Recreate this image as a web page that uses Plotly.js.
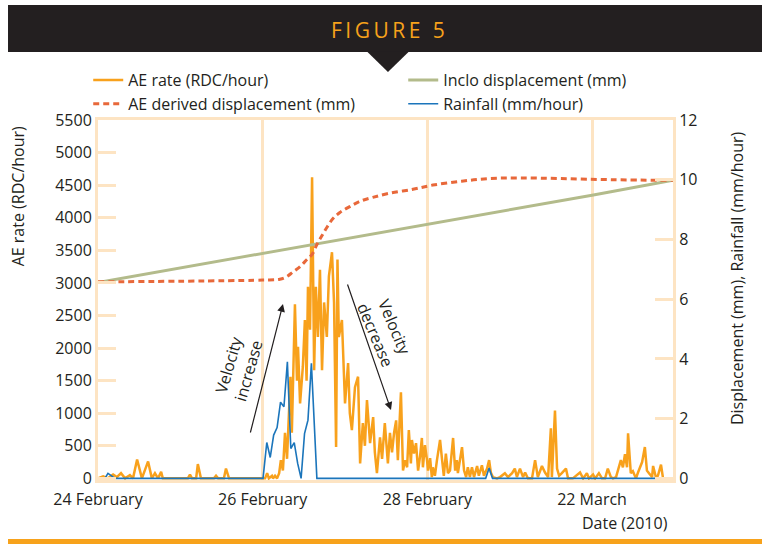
<!DOCTYPE html>
<html>
<head>
<meta charset="utf-8">
<script src="https://cdn.plot.ly/plotly-3.0.1.min.js"></script>
<style>
html,body{margin:0;padding:0;background:#ffffff;}
#chart{width:762px;height:546px;}
</style>
</head>
<body>
<div id="chart"></div>
<script>
// ---- Data (x in hours since 24 February 00:00) ----
var tickHours = [0, 48, 96, 144];
var tickLabels = ['24 February', '26 February', '28 February', '22 March'];

var aeHours = [0.0,1.5,2.9,4.4,5.5,6.7,7.9,9.3,10.2,11.4,12.8,14.6,15.7,16.6,17.5,18.4,18.9,26.2,26.8,27.4,28.6,29.1,30.0,33.8,34.4,35.0,36.7,37.3,38.2,
48.7,49.3,49.8,50.7,51.0,51.6,52.2,52.8,53.3,53.9,54.5,55.1,55.7,56.1,56.5,57.4,58.0,58.3,58.9,59.7,60.3,60.8,61.2,61.8,62.4,63.0,63.5,64.1,64.7,65.3,65.9,66.7,67.3,68.2,68.8,69.4,69.8,70.2,71.1,72.0,72.9,73.4,74.0,74.9,75.8,76.4,77.2,77.8,78.4,79.3,80.2,80.7,81.3,82.2,82.8,83.6,84.5,85.1,85.7,86.3,86.9,87.4,88.3,88.9,89.5,90.1,90.6,91.2,91.5,92.1,92.7,93.3,93.9,94.4,94.7,95.3,95.9,96.2,96.8,97.3,97.6,98.2,98.8,99.7,100.3,100.8,101.4,102.0,102.6,103.5,104.1,104.6,104.9,105.5,106.1,106.7,107.3,107.8,108.4,109.0,109.6,110.5,111.0,111.9,112.5,113.4,114.0,114.5,115.1,116.3,117.2,118.6,119.5,120.7,121.5,122.1,123.0,123.9,124.5,125.3,126.5,127.4,128.2,129.4,130.3,131.2,132.0,132.3,133.2,133.8,134.4,135.2,136.4,137.0,138.4,140.5,141.4,142.5,143.1,144.3,144.9,146.0,146.9,147.8,148.6,149.5,150.1,151.0,151.6,152.4,153.0,153.6,154.2,154.5,155.1,155.3,155.9,156.8,157.4,158.6,159.4,160.0,160.6,161.5,161.8,162.6,163.2,164.1,164.7];
var aeRate = [0,30,0,60,20,80,0,50,0,290,0,260,0,80,0,100,0,0,60,0,0,220,0,0,40,0,0,150,0,
0,80,0,40,0,40,0,80,280,120,700,300,1100,1560,700,2670,1500,2020,1150,1710,2430,1500,2940,2280,4620,1660,2940,2170,3200,1660,2700,2170,3100,3470,2700,480,3360,2170,2430,1150,1770,1000,740,1400,1560,230,850,500,1200,540,940,400,80,630,300,850,230,700,400,700,890,280,1320,120,280,170,740,230,590,380,540,120,350,620,170,510,280,120,310,20,170,40,280,590,280,40,380,80,120,620,120,280,80,280,480,120,20,170,20,170,20,190,40,200,40,150,280,90,20,0,20,80,20,80,150,20,150,20,90,0,0,280,20,190,90,20,770,20,1040,150,40,80,150,0,0,90,0,80,0,60,0,80,0,0,150,20,0,20,120,280,170,370,170,690,230,80,110,0,90,250,480,120,80,20,190,20,40,210,0];

var aeDispHours = [0,48,53.0,55.1,56.9,58.9,60.9,62.4,63.8,65.3,66.7,68.5,70.5,73.4,76.4,80.1,85.1,91.8,97.6,106,114,123,135,150,167.6];
var aeDisp = [6.58,6.64,6.67,6.76,6.92,7.09,7.33,7.5,7.83,8.13,8.4,8.7,8.9,9.1,9.28,9.41,9.55,9.68,9.82,9.95,10.04,10.06,10.04,10.0,9.98];

var incloHours = [0, 48, 96, 144, 167.6];
var incloDisp = [6.56, 7.53, 8.51, 9.48, 9.98];

var rainHours = [0,2.0,2.9,5.0,48.1,49.2,50.2,51.2,52.2,53.2,54.2,55.2,56.2,57.2,58.2,59.2,60.2,61.2,62.2,63.8,113.0,114.0,115.0,167.6];
var rainfall = [0,0,0.17,0,0,1.2,0.7,1.45,1.7,2.55,2.4,3.9,1.0,1.2,0.5,0,1.5,1.95,3.85,0,0,0.35,0,0];

// ---- Style ----
var FONT = 'Open Sans, DejaVu Sans, sans-serif';
var TXT = '#231f20';
var PEACH = '#fde4c3';
var ORANGE = '#f8a11c';
var DASHC = '#e8683a';
var GREEN = '#b3bb8b';
var BLUE = '#1b75bb';

var traces = [
  {x: aeHours, y: aeRate, type: 'scatter', mode: 'lines', name: 'AE rate (RDC/hour)',
   line: {color: ORANGE, width: 2.5}, legendrank: 1, yaxis: 'y'},
  {x: rainHours, y: rainfall, type: 'scatter', mode: 'lines', name: 'Rainfall (mm/hour)',
   line: {color: BLUE, width: 1.6}, legendrank: 4, yaxis: 'y2'},
  {x: incloHours, y: incloDisp, type: 'scatter', mode: 'lines', name: 'Inclo displacement (mm)',
   line: {color: GREEN, width: 3}, legendrank: 2, yaxis: 'y2'},
  {x: aeDispHours, y: aeDisp, type: 'scatter', mode: 'lines', name: 'AE derived displacement (mm)',
   line: {color: DASHC, width: 3, dash: '6px,4px', shape: 'spline'}, legendrank: 3, yaxis: 'y2'}
];

var layout = {
  width: 762, height: 546,
  margin: {l: 98, r: 89, t: 120, b: 66},
  paper_bgcolor: '#ffffff', plot_bgcolor: '#ffffff',
  font: {family: FONT, size: 16, color: TXT},
  showlegend: true,
  legend: {orientation: 'h', x: -0.017, y: 1.158, xanchor: 'left', yanchor: 'top',
    font: {family: FONT, size: 16, color: TXT}, entrywidth: 270, entrywidthmode: 'pixels',
    bgcolor: 'rgba(0,0,0,0)', traceorder: 'normal', itemwidth: 30},
  xaxis: {range: [0, 167.6], tickmode: 'array', tickvals: tickHours, ticktext: tickLabels,
    showgrid: true, gridcolor: PEACH, gridwidth: 3, zeroline: false,
    showline: true, linecolor: PEACH, linewidth: 3, mirror: true, ticks: '',
    ticklabelstandoff: 3,
    tickfont: {family: FONT, size: 16, color: TXT}, fixedrange: true},
  yaxis: {range: [-25, 5500], tickmode: 'linear', tick0: 0, dtick: 500,
    showgrid: false, zeroline: false, showline: true, linecolor: PEACH, linewidth: 3,
    ticks: 'inside', ticklen: 18, tickwidth: 3, tickcolor: PEACH,
    tickfont: {family: FONT, size: 16, color: TXT}},
  yaxis2: {range: [-25 * 12 / 5500, 12], overlaying: 'y', side: 'right', tickmode: 'linear', tick0: 0, dtick: 2,
    showgrid: false, zeroline: false, showline: true, linecolor: PEACH, linewidth: 3,
    ticks: 'inside', ticklen: 18, tickwidth: 3, tickcolor: PEACH,
    tickfont: {family: FONT, size: 16, color: TXT}},
  shapes: [
    {type: 'rect', xref: 'paper', yref: 'paper', x0: -0.1565, x1: 1.1548, y0: 1.1889, y1: 1.3194,
     fillcolor: '#231f20', line: {width: 0}, layer: 'above'},
    {type: 'path', xref: 'paper', yref: 'paper', path: 'M0.4678,1.1900 L0.5409,1.1900 L0.5043,1.1333 Z',
     fillcolor: '#231f20', line: {width: 0}, layer: 'above'},
    {type: 'rect', xref: 'paper', yref: 'paper', x0: -0.1565, x1: 1.1548, y0: -0.1778, y1: -0.1639,
     fillcolor: '#f7a21b', line: {width: 0}, layer: 'above'}
  ],
  annotations: [
    {text: 'F\u2009I\u2009G\u2009U\u2009R\u2009E\u2009 \u20095', xref: 'paper', yref: 'paper', x: 0.5043, y: 1.25,
     xanchor: 'center', yanchor: 'middle', showarrow: false, font: {family: FONT, size: 21, color: '#f7a21b'}},
    {text: 'AE rate (RDC/hour)', xref: 'paper', yref: 'paper', x: -0.1391, y: 0.788, textangle: -90,
     xanchor: 'center', yanchor: 'middle', showarrow: false, font: {family: FONT, size: 16, color: TXT}},
    {text: 'Displacement (mm), Rainfall (mm/hour)', xref: 'paper', yref: 'paper', x: 1.1113, y: 0.561, textangle: -90,
     xanchor: 'center', yanchor: 'middle', showarrow: false, font: {family: FONT, size: 16, color: TXT}},
    {text: 'Date (2010)', xref: 'paper', yref: 'paper', x: 0.9948, y: -0.12,
     xanchor: 'right', yanchor: 'middle', showarrow: false, font: {family: FONT, size: 16, color: TXT}},
    {text: 'Velocity<br>increase', xref: 'paper', yref: 'paper', x: (238 - 98) / 575, y: (480 - 368) / 360, textangle: -74,
     xanchor: 'center', yanchor: 'middle', showarrow: false, font: {family: FONT, size: 16, color: TXT}},
    {text: 'Velocity<br>decrease', xref: 'paper', yref: 'paper', x: (385 - 98) / 575, y: (480 - 330) / 360, textangle: 67,
     xanchor: 'center', yanchor: 'middle', showarrow: false, font: {family: FONT, size: 16, color: TXT}},
    {text: '', xref: 'paper', yref: 'paper', x: (283 - 98) / 575, y: (480 - 304) / 360, ax: -33, ay: 130,
     showarrow: true, arrowhead: 2, arrowsize: 1.3, arrowwidth: 1.2, arrowcolor: TXT},
    {text: '', xref: 'paper', yref: 'paper', x: (391 - 98) / 575, y: (480 - 410) / 360, ax: -44, ay: -127,
     showarrow: true, arrowhead: 2, arrowsize: 1.3, arrowwidth: 1.2, arrowcolor: TXT}
  ]
};

Plotly.newPlot('chart', traces, layout, {displayModeBar: false, staticPlot: true});
</script>
</body>
</html>
